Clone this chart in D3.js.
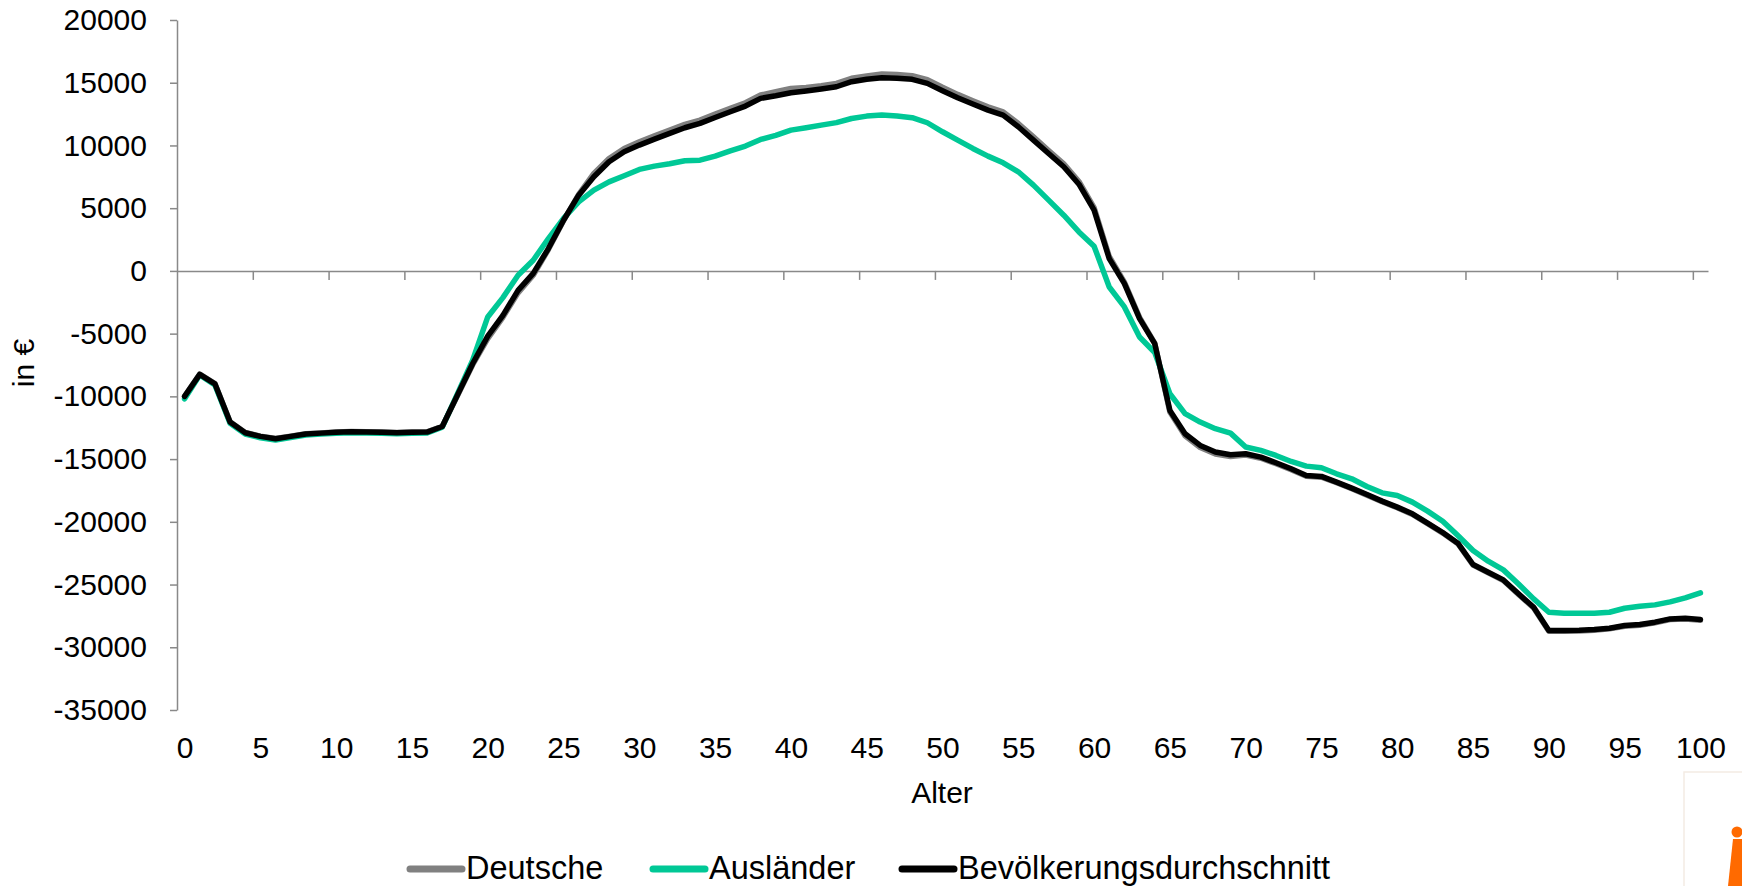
<!DOCTYPE html>
<html>
<head>
<meta charset="utf-8">
<script src="https://cdn.jsdelivr.net/npm/d3@7"></script>
<style>
  body { margin: 0; background: #fff; }
  text { font-family: "Liberation Sans", Arial, sans-serif; fill: #000; }
</style>
</head>
<body>
<svg id="chart"></svg>
<script>

var ages = d3.range(0, 101);

var deutsche = [
  -10000, -8230, -8980, -12030, -12880, -13170, -13360, -13170, -12980, -12910,
  -12850, -12800, -12830, -12850, -12880, -12850, -12830, -12390, -9950, -7500,
  -5400, -3700, -1750, -350, 1700, 4000, 6100, 7770, 8960, 9760,
  10290, 10770, 11220, 11680, 12020, 12500, 12950, 13400, 14020, 14280,
  14550, 14630, 14760, 14950, 15350, 15540, 15700, 15650, 15560, 15250,
  14640, 14070, 13560, 13080, 12680, 11750, 10690, 9600, 8540, 7130,
  5050, 1150, -900, -3700, -5750, -11250, -13150, -14080, -14600, -14800,
  -14680, -14930, -15370, -15840, -16360, -16440, -16880, -17360, -17870, -18400,
  -18880, -19410, -20150, -20900, -21750, -23450, -24070, -24680, -25790, -26860,
  -28720, -28720, -28700, -28640, -28530, -28320, -28240, -28050, -27790, -27740,
  -27840
];

var auslaender = [
  -10200, -8300, -9100, -12150, -13000, -13300, -13480, -13280, -13080, -13000,
  -12950, -12900, -12930, -12950, -12980, -12950, -12920, -12450, -9800, -7130,
  -3670, -2130, -350, 850, 2580, 4180, 5500, 6440, 7100, 7580,
  8090, 8350, 8540, 8780, 8830, 9150, 9570, 9950, 10480, 10800,
  11220, 11410, 11620, 11820, 12150, 12340, 12420, 12340, 12210, 11810,
  11090, 10430, 9760, 9150, 8620, 7900, 6840, 5640, 4440, 3110,
  1970, -1280, -2870, -5270, -6500, -9790, -11380, -12050, -12580, -12930,
  -14040, -14310, -14710, -15190, -15560, -15690, -16170, -16570, -17180, -17690,
  -17900, -18430, -19150, -19960, -21100, -22290, -23140, -23830, -24950, -26140,
  -27210, -27290, -27290, -27290, -27210, -26890, -26730, -26620, -26380, -26060,
  -25660
];

var bevoelkerung = [
  -10000, -8250, -9000, -12050, -12900, -13190, -13380, -13190, -13000, -12930,
  -12870, -12820, -12850, -12870, -12900, -12870, -12850, -12400, -9900, -7400,
  -5200, -3540, -1550, -200, 1780, 4040, 6040, 7500, 8700, 9500,
  10030, 10500, 10960, 11410, 11760, 12230, 12690, 13140, 13750, 13960,
  14200, 14340, 14500, 14680, 15080, 15270, 15400, 15350, 15270, 14950,
  14360, 13800, 13300, 12820, 12420, 11490, 10430, 9360, 8300, 6910,
  4840, 980, -1010, -3800, -5800, -11120, -12980, -13910, -14440, -14650,
  -14570, -14840, -15290, -15770, -16300, -16380, -16830, -17310, -17820, -18350,
  -18830, -19360, -20100, -20850, -21700, -23400, -24020, -24630, -25740, -26810,
  -28670, -28670, -28650, -28590, -28480, -28270, -28190, -28000, -27740, -27690,
  -27790
];

var yTicks = [20000, 15000, 10000, 5000, 0, -5000, -10000, -15000, -20000, -25000, -30000, -35000];
var xLabels = [0, 5, 10, 15, 20, 25, 30, 35, 40, 45, 50, 55, 60, 65, 70, 75, 80, 85, 90, 95, 100];

var seriesNames = ["Deutsche", "Ausländer", "Bevölkerungsdurchschnitt"];

// This runs when the page is loaded
document.addEventListener('DOMContentLoaded', function() {
    drawChart();
});

function drawChart(){

    var canvas_width = 1742;
    var canvas_height = 886;

    var plot = { left: 177, right: 1708, top: 20, bottom: 710 };
    var axisColor = "#898989";

    var series = [
        { name: seriesNames[0], values: deutsche, color: "#808080" },
        { name: seriesNames[1], values: auslaender, color: "#00c896" },
        { name: seriesNames[2], values: bevoelkerung, color: "#000000" }
    ];

    var svg = d3.select("#chart")
                .attr("width", canvas_width)
                .attr("height", canvas_height);

    svg.selectAll('*').remove();

    // Creating x-scale (one slot per age, like a category axis)
    var xScale = d3.scaleLinear()
                    .domain([-0.5, 100.5])
                    .range([plot.left, plot.right]);

    // Creating y-scale
    var yScale = d3.scaleLinear()
                    .domain([-35000, 20000])
                    .range([plot.bottom, plot.top]);

    // Adding y_axis
    var y_axis = d3.axisLeft(yScale)
                    .tickValues(yTicks)
                    .tickSize(7)
                    .tickPadding(23)
                    .tickSizeOuter(0)
                    .tickFormat(function(d){ return String(d); });

    var yg = svg.append("g")
        .attr("class", "y_axis")
        .attr("transform", "translate(" + plot.left + ",0)")
        .call(y_axis);

    yg.select(".domain").attr("stroke", axisColor).attr("stroke-width", 1.5);
    yg.selectAll(".tick line").attr("stroke", axisColor).attr("stroke-width", 1.5);
    yg.selectAll(".tick text")
        .attr("font-size", "30px")
        .attr("font-family", "Liberation Sans, Arial, sans-serif")
        .attr("fill", "#000");

    // Adding x_axis at zero, with tick marks between every fifth age
    var tickMarks = xLabels.slice(1).map(function(d){ return d - 0.5; });

    var x_axis = d3.axisBottom(xScale)
                    .tickValues(tickMarks)
                    .tickSize(9)
                    .tickSizeOuter(0)
                    .tickFormat("");

    var xg = svg.append("g")
        .attr("class", "x_axis")
        .attr("transform", "translate(0," + yScale(0) + ")")
        .call(x_axis);

    xg.select(".domain").attr("stroke", axisColor).attr("stroke-width", 1.5);
    xg.selectAll(".tick line").attr("stroke", axisColor).attr("stroke-width", 1.5);

    // Adding x labels below the plot
    var x_labels = d3.axisBottom(xScale)
                    .tickValues(xLabels)
                    .tickSize(0)
                    .tickPadding(27)
                    .tickFormat(function(d){ return String(d); });

    var lg = svg.append("g")
        .attr("class", "x_labels")
        .attr("transform", "translate(0," + plot.bottom + ")")
        .call(x_labels);

    lg.select(".domain").remove();
    lg.selectAll(".tick text")
        .attr("font-size", "30px")
        .attr("font-family", "Liberation Sans, Arial, sans-serif")
        .attr("fill", "#000");

    // Drawing the lines
    var line = d3.line()
                .x(function(d, i){ return xScale(ages[i]); })
                .y(function(d){ return yScale(d); });

    svg.selectAll(".series")
        .data(series)
        .enter()
        .append("path")
        .attr("class", "series")
        .attr("d", function(d){ return line(d.values); })
        .attr("fill", "none")
        .attr("stroke", function(d){ return d.color; })
        .attr("stroke-width", 5.5)
        .attr("stroke-linejoin", "round")
        .attr("stroke-linecap", "round");

    // Adding x_axis label
    svg.append("text")
        .attr("class", "xAxis_label")
        .attr("text-anchor", "middle")
        .attr("font-size", "30px")
        .attr("x", 942)
        .attr("y", 803)
        .text("Alter");

    // Adding y_axis label
    svg.append("text")
        .attr("class", "yAxis_label")
        .attr("text-anchor", "middle")
        .attr("font-size", "30px")
        .attr("transform", "translate(34,363) rotate(-90)")
        .text("in €");

    // Adding legend
    var legendX = [407, 650, 899];

    var legend = svg.selectAll(".legend")
        .data(series)
        .enter()
        .append("g")
        .attr("class", "legend")
        .attr("transform", function(d, i){ return "translate(" + legendX[i] + ",869)"; });

    legend.append("line")
        .attr("x1", 3)
        .attr("x2", 55)
        .attr("y1", 0)
        .attr("y2", 0)
        .attr("stroke", function(d){ return d.color; })
        .attr("stroke-width", 7)
        .attr("stroke-linecap", "round");

    legend.append("text")
        .attr("x", 59)
        .attr("y", 10)
        .attr("font-size", "32.5px")
        .text(function(d){ return d.name; });

    // Logo in the corner
    var logo = svg.append("g").attr("class", "logo");

    logo.append("rect")
        .attr("x", 1684)
        .attr("y", 772)
        .attr("width", 70)
        .attr("height", 130)
        .attr("fill", "#fff")
        .attr("stroke", "#f4ebe4")
        .attr("stroke-width", 1.5);

    logo.append("circle")
        .attr("cx", 1737)
        .attr("cy", 832)
        .attr("r", 5.5)
        .attr("fill", "#ff6a00");

    logo.append("path")
        .attr("d", "M1733,839 L1742,839 L1742,886 L1728,886 Z")
        .attr("fill", "#ff6a00");
}
</script>
</body>
</html>
